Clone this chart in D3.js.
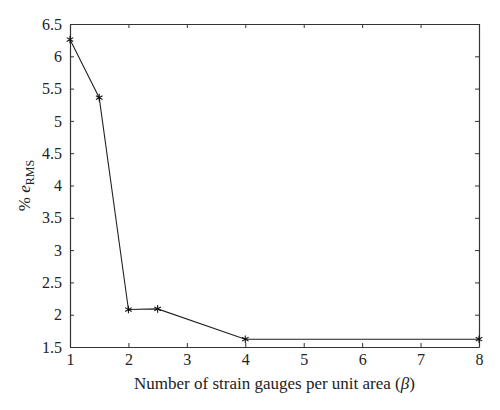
<!DOCTYPE html>
<html>
<head>
<meta charset="utf-8">
<script src="https://cdn.jsdelivr.net/npm/d3@7"></script>
<style>
  body { margin: 0; background: #fff; }
  svg text { font-family: "Liberation Serif", "DejaVu Serif", serif; fill: #222; }
</style>
</head>
<body>
<div id="root"></div>
<script>
// Data
var gauges = [1, 1.5, 2, 2.5, 4, 8];
var errRms = [6.26, 5.36, 2.08, 2.09, 1.62, 1.62];
var xTicks = [1, 2, 3, 4, 5, 6, 7, 8];
var yTicks = [1.5, 2, 2.5, 3, 3.5, 4, 4.5, 5, 5.5, 6, 6.5];

var W = 500, H = 410;
var margin = {top: 24, right: 21, bottom: 63, left: 70},
    width = W - margin.left - margin.right,
    height = H - margin.top - margin.bottom;

var svg = d3.select("#root")
            .append("svg")
            .attr("width", W)
            .attr("height", H)
            .append("g")
            .attr("transform", "translate(" + margin.left + "," + margin.top + ")");

var x = d3.scaleLinear().domain([1, 8]).range([0, width]);
var y = d3.scaleLinear().domain([1.5, 6.5]).range([height, 0]);

// Axes, ticks pointing inside (box style)
function styleAxis(g) {
  g.selectAll("path").attr("stroke", "#333").attr("stroke-width", 1.2);
  g.selectAll("line").attr("stroke", "#333").attr("stroke-width", 1);
  g.selectAll("text").attr("font-size", 16).attr("fill", "#222")
   .attr("font-family", "Liberation Serif, serif");
}

var fmt = function (d) { return String(d); };

var xAxis = svg.append("g")
               .attr("transform", "translate(0," + height + ")")
               .call(d3.axisBottom(x).tickValues(xTicks).tickFormat(fmt)
                       .tickSizeInner(-4).tickSizeOuter(0).tickPadding(7));
styleAxis(xAxis);

var xTop = svg.append("g")
              .call(d3.axisTop(x).tickValues(xTicks).tickFormat("")
                      .tickSizeInner(-4).tickSizeOuter(0));
styleAxis(xTop);

var yAxis = svg.append("g")
               .call(d3.axisLeft(y).tickValues(yTicks).tickFormat(fmt)
                       .tickSizeInner(-4).tickSizeOuter(0).tickPadding(8));
styleAxis(yAxis);

var yRight = svg.append("g")
                .attr("transform", "translate(" + width + ",0)")
                .call(d3.axisRight(y).tickValues(yTicks).tickFormat("")
                        .tickSizeInner(-4).tickSizeOuter(0));
styleAxis(yRight);

// Line
var pts = gauges.map(function (g, i) { return [g, errRms[i]]; });
var line = d3.line()
             .x(function (d) { return x(d[0]); })
             .y(function (d) { return y(d[1]); });

svg.append("path")
   .datum(pts)
   .attr("d", line)
   .attr("fill", "none")
   .attr("stroke", "#222")
   .attr("stroke-width", 1.1);

// Asterisk markers
var star = d3.symbol().type(d3.symbolAsterisk).size(40);
svg.selectAll(".mark")
   .data(pts)
   .enter().append("path")
   .attr("class", "mark")
   .attr("transform", function (d) { return "translate(" + x(d[0]) + "," + y(d[1]) + ")"; })
   .attr("d", star)
   .attr("fill", "none")
   .attr("stroke", "#111")
   .attr("stroke-width", 1.1);

// Axis labels
var xLabel = svg.append("text")
                .attr("text-anchor", "middle")
                .attr("x", width / 2)
                .attr("y", height + 42)
                .attr("font-size", 17);
xLabel.append("tspan").text("Number of strain gauges per unit area (");
xLabel.append("tspan").attr("font-style", "italic").text("\u03B2");
xLabel.append("tspan").text(")");

var yLabel = svg.append("text")
                .attr("text-anchor", "middle")
                .attr("transform", "translate(" + (-40) + "," + (height / 2) + ") rotate(-90)")
                .attr("font-size", 17);
yLabel.append("tspan").text("% ");
yLabel.append("tspan").attr("font-style", "italic").text("e");
yLabel.append("tspan").attr("font-size", 12).attr("dy", 4).text("RMS");
</script>
</body>
</html>
